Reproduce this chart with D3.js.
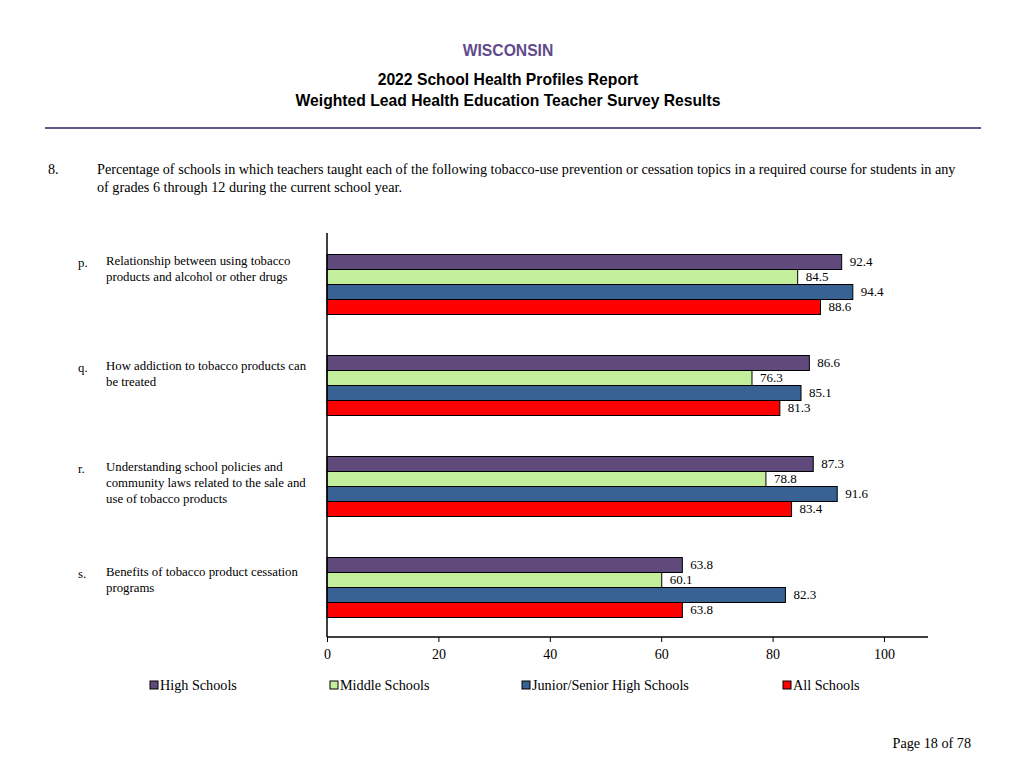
<!DOCTYPE html>
<html>
<head>
<meta charset="utf-8">
<script src="https://cdn.jsdelivr.net/npm/d3@7"></script>
<style>
  body { margin: 0; background: #fff; }
  svg { display: block; }
</style>
</head>
<body>
<svg width="1024" height="768"></svg>
<script>
// topics (letter + wrapped label lines)
const letters = ["p.", "q.", "r.", "s."];
const topics = [
  ["Relationship between using tobacco", "products and alcohol or other drugs"],
  ["How addiction to tobacco products can", "be treated"],
  ["Understanding school policies and", "community laws related to the sale and", "use of tobacco products"],
  ["Benefits of tobacco product cessation", "programs"]
];
const series = ["High Schools", "Middle Schools", "Junior/Senior High Schools", "All Schools"];
const colors = ["#604a7b", "#c3ee9b", "#386194", "#ff0000"];

const highSchools   = [92.4, 86.6, 87.3, 63.8];
const middleSchools = [84.5, 76.3, 78.8, 60.1];
const jrSrHigh      = [94.4, 85.1, 91.6, 82.3];
const allSchools    = [88.6, 81.3, 83.4, 63.8];
const values = [highSchools, middleSchools, jrSrHigh, allSchools];

const xTicks = [0, 20, 40, 60, 80, 100];

const svg = d3.select("svg");
const serif = "'Liberation Serif', 'Times New Roman', serif";
const sans = "'Liberation Sans', Arial, sans-serif";

// header
svg.append("text").attr("x", 508).attr("y", 56).attr("text-anchor", "middle")
  .style("font", "bold 15.7px " + sans).attr("fill", "#5f4b8b").text("WISCONSIN");
svg.append("text").attr("x", 508).attr("y", 85).attr("text-anchor", "middle")
  .style("font", "bold 15.7px " + sans).text("2022 School Health Profiles Report");
svg.append("text").attr("x", 508).attr("y", 106).attr("text-anchor", "middle")
  .style("font", "bold 15.7px " + sans).text("Weighted Lead Health Education Teacher Survey Results");
svg.append("line").attr("x1", 45).attr("x2", 981).attr("y1", 128).attr("y2", 128)
  .attr("stroke", "#5f5a8a").attr("stroke-width", 2);

// question
svg.append("text").attr("x", 48).attr("y", 174).style("font", "14.2px " + serif).text("8.");
svg.append("text").attr("x", 97).attr("y", 174).style("font", "14.2px " + serif)
  .text("Percentage of schools in which teachers taught each of the following tobacco-use prevention or cessation topics in a required course for students in any");
svg.append("text").attr("x", 97).attr("y", 192).style("font", "14.2px " + serif)
  .text("of grades 6 through 12 during the current school year.");

// scales
const x = d3.scaleLinear().domain([0, 100]).range([327, 884]);
const y = d3.scaleBand().domain(d3.range(topics.length)).range([233, 637]);
const yInner = d3.scaleBand().domain(d3.range(series.length))
  .range([y.bandwidth() / 2 - 29, y.bandwidth() / 2 + 31]);

// the category labels drift a little lower down the page in the original
const labelNudge = [0, 4, 4, 8];

const g = svg.append("g");

topics.forEach((lines, i) => {
  const top = y(i);
  const grp = g.append("g").attr("transform", `translate(0,${top})`);
  series.forEach((s, j) => {
    const v = values[j][i];
    const by = yInner(j);
    grp.append("rect")
      .attr("x", x(0)).attr("y", by)
      .attr("width", x(v) - x(0)).attr("height", yInner.bandwidth())
      .attr("fill", colors[j]).attr("stroke", "#000").attr("stroke-width", 1);
    const lbl = grp.append("g");
    lbl.append("rect").attr("x", x(v) + 5).attr("y", by + 0.5)
      .attr("width", 30).attr("height", yInner.bandwidth() - 1).attr("fill", "#fff");
    lbl.append("text").attr("x", x(v) + 8).attr("y", by + yInner.bandwidth() / 2 + 4)
      .style("font", "13px " + serif).text(v.toFixed(1));
  });
  // category label
  const ly = top + yInner(0) + 10 + labelNudge[i];
  svg.append("text").attr("x", 78).attr("y", ly + 2).style("font", "12.8px " + serif).text(letters[i]);
  lines.forEach((t, k) => {
    svg.append("text").attr("x", 106).attr("y", ly + k * 16)
      .style("font", "12.8px " + serif).text(t);
  });
});

// axes
svg.append("line").attr("x1", x(0)).attr("x2", x(0)).attr("y1", 233).attr("y2", 637)
  .attr("stroke", "#000").attr("stroke-width", 1.5);
svg.append("line").attr("x1", x(0)).attr("x2", 928).attr("y1", 637).attr("y2", 637)
  .attr("stroke", "#000").attr("stroke-width", 1.5);

const xAxis = svg.append("g").attr("transform", "translate(0,637)")
  .call(d3.axisBottom(x).tickValues(xTicks).tickSize(5).tickSizeOuter(0).tickPadding(7));
xAxis.select(".domain").remove();
xAxis.selectAll("line").attr("stroke", "#000");
xAxis.selectAll("text").style("font", "14px " + serif).attr("fill", "#000");

// legend
const legendX = [150, 330, 522, 783];
series.forEach((s, j) => {
  svg.append("rect").attr("x", legendX[j]).attr("y", 681).attr("width", 8).attr("height", 8)
    .attr("fill", colors[j]).attr("stroke", "#000").attr("stroke-width", 1);
  svg.append("text").attr("x", legendX[j] + 10).attr("y", 690)
    .style("font", "14.2px " + serif).text(s);
});

// footer
svg.append("text").attr("x", 971).attr("y", 748).attr("text-anchor", "end")
  .style("font", "14.2px " + serif).text("Page 18 of 78");
</script>
</body>
</html>
